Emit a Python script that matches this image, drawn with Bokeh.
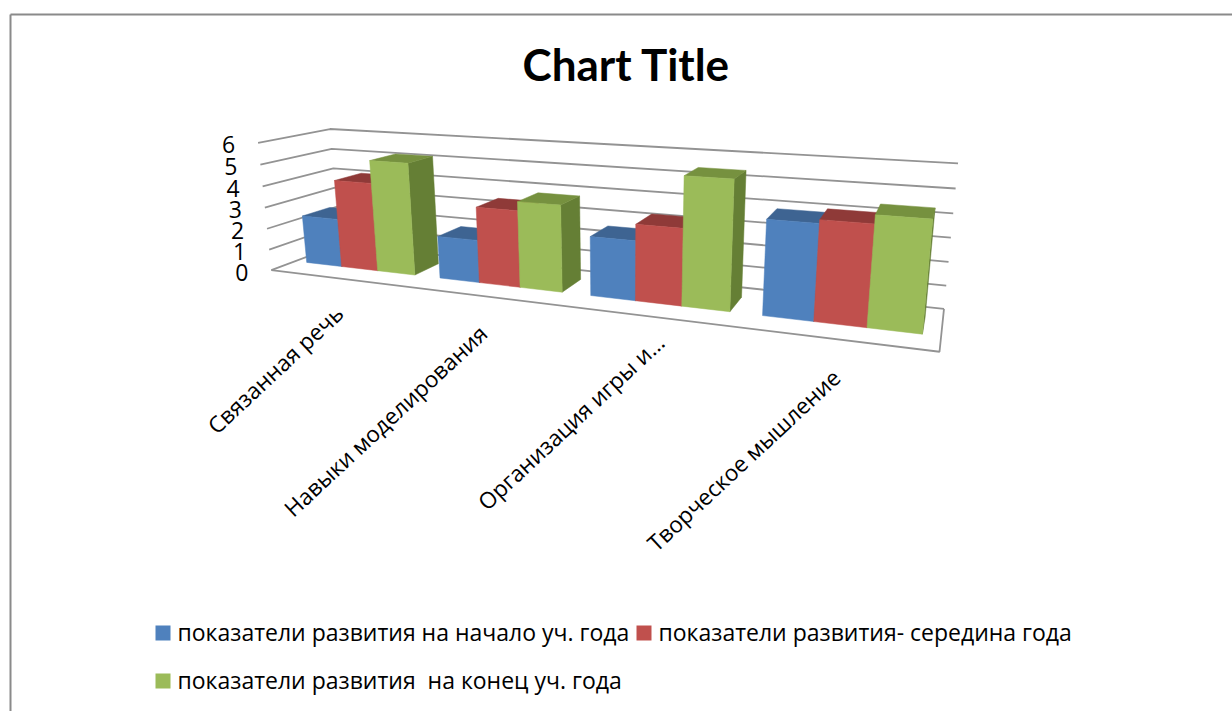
import numpy as np
from bokeh.plotting import figure
from bokeh.models import Range1d
from bokeh.core.properties import value
from bokeh.embed import file_html
from bokeh.resources import INLINE

categories = ["Связанная речь", "Навыки моделирования", "Организация игры и…", "Творческое мышление"]
start_year = [2.3, 1.95, 2.6, 3.95]
mid_year = [4.15, 3.45, 3.3, 4.1]
end_year = [5.2, 3.85, 5.45, 4.45]
series_names = ["показатели развития на начало уч. года", "показатели развития- середина года", "показатели развития \u00a0на конец уч. года"]
y_ticks = [0, 1, 2, 3, 4, 5, 6]
chart_title = "Chart Title"

FONT = "Open Sans"
front = ["#4F81BD", "#C0504D", "#9BBB59"]
top = ["#3E6492", "#8F3A38", "#76913F"]
side = ["#35557C", "#7A3130", "#657F35"]
GRID = "#939393"

# camera calibration: (u along categories, d depth, h value fraction) -> page pixel
cal = []
fl = [(272, 269), (269, 249), (267, 228), (264, 207), (262, 186), (259, 164), (257, 143)]
bl = [(338, 245), (337, 226), (336, 206), (335, 187), (333, 167), (332, 148), (330, 129)]
br = [(943, 308), (946, 285), (948, 261), (951, 237), (953, 213), (955, 188), (957, 163)]
for k in range(7):
    cal.append(((0, 0, k / 6), fl[k]))
    cal.append(((0, 1, k / 6), bl[k]))
    cal.append(((1, 1, k / 6), br[k]))
cal.append(((1, 0, 0), (939, 352)))
A = []
for (u, d, h), (x, y) in cal:
    A.append([u, d, h, 1, 0, 0, 0, 0, -x * u, -x * d, -x * h, -x])
    A.append([0, 0, 0, 0, u, d, h, 1, -y * u, -y * d, -y * h, -y])
P = np.linalg.svd(np.array(A, float))[2][-1].reshape(3, 4)


def proj(u, d, v):
    q = P @ np.array([u, d, v / 6, 1.0])
    return q[0] / q[2], q[1] / q[2]


def face(pts):
    c = [proj(*a) for a in pts]
    return [a[0] for a in c], [a[1] for a in c]


p = figure(width=1232, height=711, output_backend="svg", toolbar_location=None,
           x_range=Range1d(0, 1232), y_range=Range1d(711, 0), min_border=0,
           outline_line_color=None, background_fill_color="white", border_fill_color="white")
p.axis.visible = False
p.grid.visible = False

# frame of the chart area
p.line([10, 10], [711, 14], line_color="#8A8A8A", line_width=2)
p.line([10, 1232], [14, 14], line_color="#8A8A8A", line_width=2)

# gridlines on left and back walls
for t in y_ticks:
    xs, ys = face([(0, 0, t), (0, 1, t), (1, 1, t)])
    p.line(xs, ys, line_color=GRID, line_width=1.8)
xs, ys = face([(0, 0, 0), (1, 0, 0), (1, 1, 0)])
p.line(xs, ys, line_color=GRID, line_width=1.8)

# bars
G = 0.09
D0, D1 = 0.33, 0.73
series = [start_year, mid_year, end_year]
fx, fy, fc = [], [], []
for i in range(len(categories)):
    w = (1 - 2 * G) / 3
    for s, vals in enumerate(series):
        u0 = (i + G + s * w) / 4
        u1 = (i + G + (s + 1) * w) / 4
        v = vals[i]
        for pts, col in (
            ([(u1, D0, 0), (u1, D1, 0), (u1, D1, v), (u1, D0, v)], side[s]),
            ([(u0, D0, v), (u1, D0, v), (u1, D1, v), (u0, D1, v)], top[s]),
            ([(u0, D0, 0), (u1, D0, 0), (u1, D0, v), (u0, D0, v)], front[s]),
        ):
            a, b = face(pts)
            fx.append(a); fy.append(b); fc.append(col)
p.patches(fx, fy, fill_color=fc, line_color=fc, line_width=0.5)

# value labels
for t in y_ticks:
    x, y = proj(0, 0, t)
    p.text([x - 23], [y + 2], text=[str(t)], text_font=value(FONT), text_font_size="23px",
           text_align="right", text_baseline="middle", text_color="black")

# category labels
label_end = [(339, 309), (483, 329), (660, 338), (836, 373)]
for c, (x, y) in zip(categories, label_end):
    p.text([x], [y], text=[c], angle=np.radians(43), text_font=value(FONT), text_font_size="22.5px",
           text_align="right", text_baseline="middle", text_color="black")

# title
p.text([626], [63], text=[chart_title], text_font=value("Lato"), text_font_size="44px",
       text_font_style="bold", text_align="center", text_baseline="middle", text_color="black")

# legend
leg = [(155, 633), (636, 633), (155, 681)]
for (x, y), c, n in zip(leg, front, series_names):
    p.quad(left=[x], right=[x + 15], top=[y - 8], bottom=[y + 7], fill_color=c, line_color=None)
    p.text([x + 22], [y - 2], text=[n], text_font=value(FONT), text_font_size="23px",
           text_align="left", text_baseline="middle", text_color="black")

open("out.html", "w").write(file_html(p, INLINE))
